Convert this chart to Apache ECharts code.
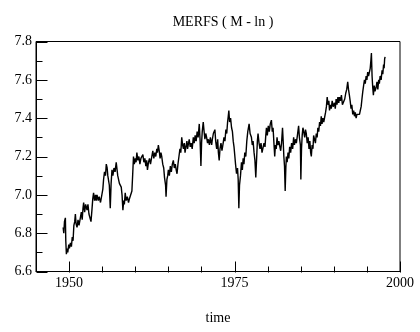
<!DOCTYPE html>
<html>
<head>
<meta charset="utf-8">
<script src="https://cdn.jsdelivr.net/npm/echarts@6/dist/echarts.min.js"></script>
<style>
  html, body { margin: 0; padding: 0; background: #fff; }
  #chart { width: 420px; height: 332px; }
</style>
</head>
<body>
<div id="chart"></div>
<script>
// monthly-ish readings of the series (year, log value)
var years = [
  1949.10,1949.20,1949.30,1949.44,1949.50,1949.59,1949.70,1949.80,1949.95,1950.05,
  1950.20,1950.35,1950.48,1950.60,1950.72,1950.85,1950.95,1951.05,1951.20,1951.35,
  1951.50,1951.70,1951.85,1951.98,1952.10,1952.20,1952.35,1952.50,1952.71,1952.85,
  1953.00,1953.15,1953.31,1953.45,1953.58,1953.70,1953.85,1954.00,1954.10,1954.22,
  1954.40,1954.55,1954.75,1954.97,1955.10,1955.21,1955.35,1955.50,1955.62,1955.75,
  1955.85,1955.96,1956.08,1956.22,1956.35,1956.48,1956.62,1956.78,1956.95,1957.12,
  1957.25,1957.35,1957.47,1957.60,1957.75,1957.88,1958.00,1958.13,1958.25,1958.35,
  1958.48,1958.62,1958.80,1958.98,1959.12,1959.30,1959.49,1959.60,1959.73,1959.85,
  1960.00,1960.12,1960.24,1960.40,1960.55,1960.70,1960.85,1961.00,1961.15,1961.30,
  1961.45,1961.60,1961.72,1961.84,1962.00,1962.15,1962.30,1962.50,1962.65,1962.80,
  1962.95,1963.10,1963.25,1963.35,1963.49,1963.62,1963.75,1963.88,1964.00,1964.15,
  1964.30,1964.42,1964.50,1964.58,1964.65,1964.78,1964.90,1965.00,1965.15,1965.30,
  1965.45,1965.60,1965.75,1965.90,1966.05,1966.18,1966.31,1966.45,1966.60,1966.75,
  1966.88,1967.02,1967.15,1967.28,1967.40,1967.52,1967.65,1967.80,1967.90,1968.01,
  1968.15,1968.30,1968.45,1968.60,1968.77,1968.90,1969.05,1969.20,1969.35,1969.50,
  1969.67,1969.80,1969.92,1970.02,1970.12,1970.27,1970.40,1970.52,1970.65,1970.78,
  1970.92,1971.05,1971.20,1971.35,1971.54,1971.65,1971.80,1972.03,1972.15,1972.30,
  1972.45,1972.56,1972.68,1972.80,1972.95,1973.10,1973.28,1973.40,1973.55,1973.69,
  1973.82,1973.95,1974.05,1974.14,1974.25,1974.40,1974.55,1974.68,1974.80,1974.92,
  1975.05,1975.15,1975.30,1975.45,1975.55,1975.65,1975.75,1975.90,1976.05,1976.18,
  1976.30,1976.42,1976.55,1976.70,1976.85,1977.00,1977.20,1977.35,1977.55,1977.68,
  1977.80,1977.95,1978.08,1978.21,1978.35,1978.45,1978.55,1978.70,1978.85,1979.00,
  1979.15,1979.31,1979.45,1979.60,1979.72,1979.82,1979.95,1980.10,1980.25,1980.40,
  1980.57,1980.70,1980.82,1980.95,1981.07,1981.18,1981.30,1981.42,1981.55,1981.70,
  1981.85,1981.97,1982.10,1982.25,1982.35,1982.45,1982.55,1982.65,1982.75,1982.83,
  1982.95,1983.08,1983.20,1983.33,1983.48,1983.62,1983.78,1983.93,1984.05,1984.20,
  1984.34,1984.50,1984.68,1984.80,1984.95,1985.02,1985.12,1985.22,1985.33,1985.45,
  1985.60,1985.72,1985.84,1985.98,1986.12,1986.25,1986.38,1986.50,1986.60,1986.72,
  1986.85,1986.95,1987.09,1987.22,1987.35,1987.48,1987.59,1987.72,1987.85,1987.98,
  1988.10,1988.22,1988.35,1988.48,1988.60,1988.75,1988.88,1989.00,1989.12,1989.25,
  1989.35,1989.50,1989.62,1989.75,1989.90,1990.10,1990.22,1990.35,1990.48,1990.62,
  1990.75,1990.86,1991.00,1991.15,1991.30,1991.50,1991.65,1991.80,1991.95,1992.10,
  1992.22,1992.35,1992.47,1992.60,1992.72,1992.86,1993.00,1993.12,1993.25,1993.37,
  1993.50,1993.62,1993.75,1993.88,1994.00,1994.13,1994.25,1994.38,1994.50,1994.63,
  1994.75,1994.88,1995.00,1995.12,1995.25,1995.38,1995.50,1995.60,1995.68,1995.78,
  1995.88,1995.98,1996.10,1996.22,1996.39,1996.52,1996.65,1996.78,1996.88,1997.00,
  1997.15,1997.29,1997.40,1997.52,1997.60,1997.68,1997.75
];
var merfs = [
  6.83,6.80,6.86,6.88,6.76,6.69,6.72,6.70,6.74,6.72,
  6.75,6.73,6.78,6.76,6.84,6.86,6.90,6.85,6.83,6.87,
  6.84,6.88,6.91,6.87,6.93,6.96,6.91,6.95,6.92,6.95,
  6.90,6.89,6.86,6.92,6.98,7.01,6.97,7.00,6.97,7.00,
  6.97,6.99,6.96,6.96,7.03,7.08,7.12,7.10,7.16,7.14,
  7.10,7.11,7.05,6.93,7.06,7.13,7.10,7.14,7.12,7.17,
  7.13,7.10,7.09,7.06,7.07,7.04,7.00,6.92,6.97,6.95,
  7.01,6.97,6.99,6.96,6.98,6.97,7.02,7.10,7.20,7.16,
  7.19,7.17,7.22,7.18,7.20,7.16,7.19,7.18,7.21,7.17,
  7.19,7.15,7.18,7.13,7.17,7.19,7.16,7.20,7.23,7.19,
  7.22,7.20,7.24,7.22,7.26,7.23,7.19,7.22,7.20,7.16,
  7.14,7.09,7.09,7.05,6.99,7.08,7.10,7.13,7.10,7.15,
  7.12,7.16,7.18,7.14,7.16,7.13,7.11,7.16,7.20,7.24,
  7.22,7.30,7.26,7.24,7.27,7.22,7.25,7.28,7.24,7.25,
  7.29,7.25,7.27,7.24,7.30,7.27,7.31,7.28,7.33,7.30,
  7.37,7.28,7.15,7.27,7.33,7.38,7.33,7.29,7.32,7.30,
  7.27,7.29,7.26,7.30,7.26,7.29,7.32,7.34,7.28,7.24,
  7.29,7.22,7.18,7.24,7.27,7.23,7.27,7.30,7.28,7.34,
  7.32,7.38,7.41,7.44,7.38,7.40,7.35,7.33,7.28,7.25,
  7.20,7.16,7.11,7.14,7.08,6.93,7.05,7.10,7.17,7.13,
  7.19,7.16,7.22,7.20,7.28,7.33,7.37,7.32,7.30,7.26,
  7.28,7.22,7.18,7.09,7.20,7.28,7.32,7.27,7.24,7.27,
  7.22,7.23,7.27,7.25,7.31,7.35,7.31,7.36,7.33,7.37,
  7.39,7.33,7.35,7.27,7.20,7.26,7.24,7.30,7.26,7.28,
  7.25,7.23,7.27,7.35,7.28,7.20,7.15,7.02,7.14,7.20,
  7.17,7.22,7.19,7.25,7.22,7.27,7.24,7.30,7.26,7.29,
  7.27,7.31,7.36,7.30,7.26,7.08,7.24,7.31,7.35,7.33,
  7.30,7.34,7.32,7.27,7.30,7.24,7.28,7.22,7.20,7.26,
  7.24,7.31,7.30,7.27,7.32,7.30,7.35,7.33,7.38,7.36,
  7.41,7.37,7.40,7.38,7.39,7.43,7.46,7.51,7.47,7.49,
  7.44,7.47,7.45,7.49,7.46,7.48,7.45,7.50,7.47,7.51,
  7.48,7.51,7.49,7.52,7.47,7.46,7.50,7.53,7.55,7.59,
  7.55,7.52,7.49,7.45,7.47,7.42,7.44,7.41,7.43,7.40,
  7.42,7.41,7.43,7.42,7.44,7.46,7.50,7.54,7.57,7.60,
  7.58,7.62,7.60,7.64,7.62,7.61,7.66,7.70,7.74,7.62,
  7.56,7.52,7.57,7.54,7.56,7.59,7.55,7.60,7.58,7.62,
  7.60,7.65,7.63,7.68,7.66,7.71,7.72
];
var xTickLabels = [1950, 1975, 2000];
var xMinorTicks = [1955, 1960, 1965, 1970, 1980, 1985, 1990, 1995];
var yTickLabels = [6.6, 6.8, 7.0, 7.2, 7.4, 7.6, 7.8];
var yMinorTicks = [6.7, 6.9, 7.1, 7.3, 7.5, 7.7];

var pts = [];
for (var i = 0; i < years.length; i++) {
  pts.push([years[i], merfs[i]]);
}

var X_MIN = 1945, X_MAX = 2000, Y_MIN = 6.6, Y_MAX = 7.8;
var serif = '"Liberation Serif", "DejaVu Serif", serif';
var black = { color: '#000', width: 1 };

// tick marks drawn inward from the bottom / left axis, through the axis scale
function tickSeries(values, dir, len) {
  return {
    type: 'custom',
    silent: true,
    clip: false,
    z: 5,
    data: values,
    encode: dir === 'x' ? { x: 0 } : { y: 0 },
    renderItem: function (params, api) {
      var v = api.value(0);
      var p = dir === 'x' ? api.coord([v, Y_MIN]) : api.coord([X_MIN, v]);
      var x1 = Math.round(p[0]) + 0.5, y1 = Math.round(p[1]) + 0.5;
      var x2 = dir === 'x' ? x1 : x1 + len;
      var y2 = dir === 'x' ? y1 - len : y1;
      return {
        type: 'line',
        shape: { x1: x1, y1: y1, x2: x2, y2: y2 },
        style: { stroke: '#000', lineWidth: 1 }
      };
    }
  };
}

var myChart = echarts.init(document.getElementById('chart'));
var option = {
  animation: false,
  backgroundColor: '#fff',
  title: {
    text: 'MERFS ( M - ln )',
    left: 218,
    textAlign: 'center',
    top: 10,
    textStyle: { fontFamily: serif, fontSize: 14, fontWeight: 'normal', color: '#000' }
  },
  grid: {
    left: 36, right: 20, top: 41.5, bottom: 60.5,
    show: true, borderColor: '#000', borderWidth: 1, backgroundColor: 'transparent'
  },
  xAxis: {
    type: 'value', min: X_MIN, max: X_MAX, interval: 5,
    axisLine: { show: true, onZero: false, lineStyle: black },
    axisTick: { show: false },
    axisLabel: {
      show: true, customValues: xTickLabels, margin: 5, fontFamily: serif, fontSize: 14, color: '#000',
      formatter: function (v) { return String(v); }
    },
    splitLine: { show: false },
    name: 'time', nameLocation: 'middle', nameGap: 40,
    nameTextStyle: { fontFamily: serif, fontSize: 14, color: '#000' }
  },
  yAxis: {
    type: 'value', min: Y_MIN, max: Y_MAX, interval: 0.2,
    axisLine: { show: true, onZero: false, lineStyle: black },
    axisTick: { show: false },
    axisLabel: {
      margin: 4, fontFamily: serif, fontSize: 14, color: '#000',
      formatter: function (v) { return v.toFixed(1); }
    },
    splitLine: { show: false }
  },
  series: [
    {
      name: 'MERFS',
      type: 'line',
      data: pts,
      showSymbol: false,
      symbol: 'none',
      lineStyle: { color: '#000', width: 1.4 }
    },
    tickSeries(xTickLabels, 'x', 11),
    tickSeries(xMinorTicks, 'x', 6),
    tickSeries(yTickLabels, 'y', 11),
    tickSeries(yMinorTicks, 'y', 6)
  ]
};
myChart.setOption(option);
</script>
</body>
</html>
